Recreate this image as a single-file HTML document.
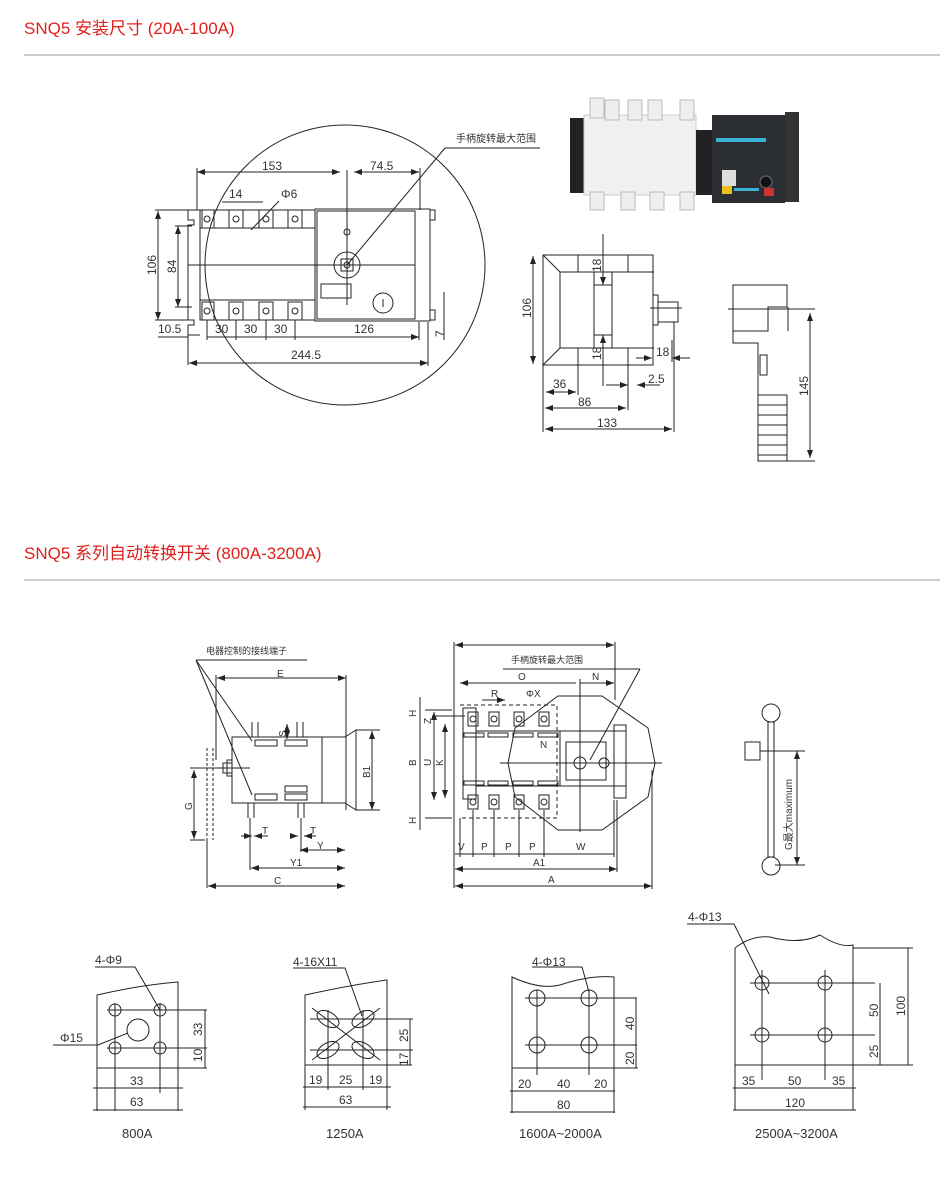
<!DOCTYPE html>
<html><head><meta charset="utf-8"><style>
html,body{margin:0;padding:0;background:#fff;width:940px;height:1204px;overflow:hidden}
svg{display:block}
.t{font-family:"Liberation Sans","Noto Sans CJK SC",sans-serif;fill:#333;font-size:12px}
.h{font-family:"Liberation Sans","Noto Sans CJK SC",sans-serif;fill:#e0201c;font-size:17px}
</style></head><body>
<svg width="940" height="1204" viewBox="0 0 940 1204" xmlns="http://www.w3.org/2000/svg">
<defs>
<marker id="a" markerWidth="8" markerHeight="6" refX="8" refY="3" orient="auto-start-reverse" markerUnits="userSpaceOnUse"><path d="M0,0 L8,3 L0,6z" fill="#222"/></marker>
</defs>
<text class="h" x="24" y="34">SNQ5 安装尺寸 (20A-100A)</text>
<line x1="24" y1="55" x2="940" y2="55" stroke="#999"/>
<text class="h" x="24" y="559">SNQ5 系列自动转换开关 (800A-3200A)</text>
<line x1="24" y1="580" x2="940" y2="580" stroke="#999"/>

<g stroke="#222" fill="none" stroke-width="1">
<circle cx="345" cy="265" r="140"/>
<path d="M188,210 h12 v20 M188,210 v10 h6 v5 h-6 v95 h6 v5 h-6 v10 h12"/>
<rect x="200" y="210" width="115" height="110"/>
<line x1="200" y1="228" x2="315" y2="228"/><line x1="200" y1="300" x2="315" y2="300"/>
<line x1="188" y1="265" x2="415" y2="265"/>
<rect x="202" y="210" width="12" height="18"/><rect x="229" y="210" width="14" height="18"/><rect x="259" y="210" width="14" height="18"/><rect x="288" y="210" width="14" height="18"/>
<rect x="202" y="302" width="12" height="18"/><rect x="229" y="302" width="14" height="18"/><rect x="259" y="302" width="14" height="18"/><rect x="288" y="302" width="14" height="18"/>
<circle cx="207" cy="219" r="3"/><circle cx="236" cy="219" r="3"/><circle cx="266" cy="219" r="3"/><circle cx="295" cy="219" r="3"/>
<circle cx="207" cy="311" r="3"/><circle cx="236" cy="311" r="3"/><circle cx="266" cy="311" r="3"/><circle cx="295" cy="311" r="3"/>
<rect x="315" y="209" width="115" height="112"/>
<rect x="317" y="211" width="98" height="108"/>
<path d="M430,210 h5 v10 h-5 M430,310 h5 v10 h-5"/>
<circle cx="347" cy="232" r="3"/>
<circle cx="347" cy="265" r="13"/><rect x="341" y="259" width="12" height="12"/><circle cx="347" cy="265" r="3"/>
<rect x="321" y="284" width="30" height="14"/>
<circle cx="383" cy="303" r="10"/><line x1="383" y1="299" x2="383" y2="307"/>
<line x1="347" y1="170" x2="347" y2="305"/>
<line x1="347" y1="265" x2="445" y2="148"/><line x1="445" y1="148" x2="540" y2="148"/>
<line x1="279" y1="201" x2="251" y2="230"/>
<line x1="197" y1="172" x2="340" y2="172" marker-start="url(#a)" marker-end="url(#a)"/>
<line x1="354" y1="172" x2="419" y2="172" marker-start="url(#a)" marker-end="url(#a)"/>
<line x1="197" y1="168" x2="197" y2="210"/><line x1="420" y1="168" x2="420" y2="210"/>
<line x1="222" y1="202" x2="263" y2="202"/>
<line x1="158" y1="211" x2="158" y2="320" marker-start="url(#a)" marker-end="url(#a)"/>
<line x1="178" y1="226" x2="178" y2="307" marker-start="url(#a)" marker-end="url(#a)"/>
<line x1="155" y1="210" x2="188" y2="210"/><line x1="155" y1="320" x2="188" y2="320"/>
<line x1="175" y1="226" x2="192" y2="226"/><line x1="175" y1="307" x2="192" y2="307"/>
<line x1="158" y1="337" x2="188" y2="337"/><line x1="188" y1="325" x2="188" y2="365"/>
<line x1="207" y1="337" x2="419" y2="337" marker-end="url(#a)"/>
<line x1="207" y1="320" x2="207" y2="340"/><line x1="236" y1="320" x2="236" y2="340"/><line x1="266" y1="320" x2="266" y2="340"/><line x1="295" y1="320" x2="295" y2="340"/>
<line x1="419" y1="322" x2="419" y2="340"/>
<line x1="189" y1="363" x2="428" y2="363" marker-start="url(#a)" marker-end="url(#a)"/>
<line x1="428" y1="322" x2="428" y2="366"/>
<line x1="444" y1="292" x2="444" y2="340"/>
<path d="M543,255 h110 v110 h-110 z M543,255 l17,17 v76 l-17,17 M560,272 h94 M560,348 h94"/>
<line x1="578" y1="255" x2="578" y2="272"/><line x1="628" y1="255" x2="628" y2="272"/>
<line x1="578" y1="348" x2="578" y2="365"/><line x1="628" y1="348" x2="628" y2="365"/>
<rect x="594" y="285" width="18" height="50"/><line x1="612" y1="272" x2="612" y2="348"/><line x1="594" y1="272" x2="594" y2="348"/>
<rect x="653" y="295" width="5" height="30"/><rect x="658" y="302" width="20" height="20"/><line x1="650" y1="308" x2="682" y2="308"/>
<line x1="533" y1="256" x2="533" y2="364" marker-start="url(#a)" marker-end="url(#a)"/>
<line x1="603" y1="234" x2="603" y2="285" marker-end="url(#a)"/><line x1="603" y1="335" x2="603" y2="386" marker-start="url(#a)"/>
<line x1="636" y1="358" x2="652" y2="358" marker-end="url(#a)"/><line x1="672" y1="358" x2="690" y2="358" marker-start="url(#a)"/><line x1="672" y1="340" x2="672" y2="362"/>
<line x1="543" y1="365" x2="543" y2="432"/><line x1="578" y1="365" x2="578" y2="395"/><line x1="628" y1="365" x2="628" y2="410"/><line x1="674" y1="322" x2="674" y2="432"/>
<line x1="546" y1="392" x2="576" y2="392" marker-start="url(#a)" marker-end="url(#a)"/>
<line x1="606" y1="385" x2="628" y2="385" marker-end="url(#a)"/><line x1="637" y1="385" x2="660" y2="385" marker-start="url(#a)"/>
<line x1="545" y1="408" x2="626" y2="408" marker-start="url(#a)" marker-end="url(#a)"/>
<line x1="545" y1="429" x2="672" y2="429" marker-start="url(#a)" marker-end="url(#a)"/>
<path d="M733,285 h54 v22 h-19 v24 h-35 z M788,307 v24 M733,331 v12 h25 v118 h29"/>
<path d="M758,395 h29 M758,405 h29 M758,415 h29 M758,425 h29 M758,435 h29 M758,445 h29 M758,455 h29 M787,395 v66"/>
<rect x="760" y="355" width="7" height="20"/>
<line x1="728" y1="309" x2="815" y2="309"/><line x1="787" y1="461" x2="815" y2="461"/>
<line x1="810" y1="313" x2="810" y2="458" marker-start="url(#a)" marker-end="url(#a)"/>

<line x1="196" y1="660" x2="307" y2="660"/>
<line x1="196" y1="660" x2="252" y2="741"/><line x1="196" y1="660" x2="252" y2="795"/>
<line x1="217" y1="678" x2="346" y2="678" marker-start="url(#a)" marker-end="url(#a)"/>
<line x1="216" y1="675" x2="216" y2="760"/><line x1="346" y1="675" x2="346" y2="810"/>
<rect x="232" y="737" width="90" height="66"/><line x1="322" y1="737" x2="322" y2="803"/>
<path d="M322,737 h23 l11,-7 v80 l-11,-7 h-23"/>
<rect x="255" y="740" width="22" height="6"/><rect x="285" y="740" width="22" height="6"/>
<rect x="255" y="794" width="22" height="6"/><rect x="285" y="786" width="22" height="6"/><rect x="285" y="794" width="22" height="6"/>
<line x1="252" y1="722" x2="252" y2="737"/><line x1="258" y1="722" x2="258" y2="737"/><line x1="297" y1="722" x2="297" y2="737"/><line x1="303" y1="722" x2="303" y2="737"/>
<line x1="248" y1="803" x2="248" y2="818"/><line x1="254" y1="803" x2="254" y2="818"/><line x1="298" y1="803" x2="298" y2="818"/><line x1="304" y1="803" x2="304" y2="818"/>
<rect x="223" y="763" width="9" height="10"/><rect x="227" y="760" width="5" height="16"/>
<line x1="190" y1="768" x2="250" y2="768"/>
<path d="M207,748 v92 M213,748 v92" stroke-dasharray="3,2"/>
<line x1="372" y1="731" x2="372" y2="810" marker-start="url(#a)" marker-end="url(#a)"/><line x1="356" y1="730" x2="380" y2="730"/><line x1="356" y1="810" x2="380" y2="810"/>
<line x1="194" y1="770" x2="194" y2="839" marker-start="url(#a)" marker-end="url(#a)"/><line x1="190" y1="840" x2="205" y2="840"/>
<line x1="287" y1="724" x2="287" y2="739" marker-start="url(#a)" marker-end="url(#a)"/>
<line x1="241" y1="836" x2="252" y2="836" marker-end="url(#a)"/><line x1="254" y1="836" x2="268" y2="836" marker-start="url(#a)"/>
<line x1="291" y1="836" x2="298" y2="836" marker-end="url(#a)"/><line x1="304" y1="836" x2="316" y2="836" marker-start="url(#a)"/>
<line x1="300" y1="850" x2="345" y2="850" marker-start="url(#a)" marker-end="url(#a)"/>
<line x1="250" y1="818" x2="250" y2="870"/><line x1="301" y1="818" x2="301" y2="852"/>
<line x1="251" y1="868" x2="345" y2="868" marker-start="url(#a)" marker-end="url(#a)"/>
<line x1="207" y1="840" x2="207" y2="888"/>
<line x1="208" y1="886" x2="345" y2="886" marker-start="url(#a)" marker-end="url(#a)"/>

<line x1="455" y1="645" x2="614" y2="645" marker-start="url(#a)" marker-end="url(#a)"/>
<line x1="454" y1="642" x2="454" y2="888"/><line x1="615" y1="642" x2="615" y2="700"/>
<line x1="503" y1="669" x2="640" y2="669"/><line x1="640" y1="669" x2="590" y2="760"/>
<line x1="460" y1="683" x2="576" y2="683" marker-start="url(#a)"/><line x1="580" y1="683" x2="614" y2="683" marker-end="url(#a)"/>
<line x1="580" y1="679" x2="580" y2="832"/>
<line x1="482" y1="700" x2="505" y2="700" marker-end="url(#a)"/>
<path d="M460,705 h97 v113 h-97" stroke-dasharray="4,3"/>
<rect x="463" y="708" width="13" height="91"/>
<line x1="476" y1="731" x2="560" y2="731"/><line x1="476" y1="786" x2="560" y2="786"/><line x1="476" y1="708" x2="476" y2="799"/>
<rect x="468" y="712" width="10" height="14"/><rect x="489" y="712" width="10" height="14"/><rect x="514" y="712" width="10" height="14"/><rect x="539" y="712" width="10" height="14"/>
<rect x="468" y="795" width="10" height="14"/><rect x="489" y="795" width="10" height="14"/><rect x="514" y="795" width="10" height="14"/><rect x="539" y="795" width="10" height="14"/>
<rect x="464" y="733" width="20" height="4"/><rect x="488" y="733" width="20" height="4"/><rect x="513" y="733" width="20" height="4"/><rect x="538" y="733" width="20" height="4"/>
<rect x="464" y="781" width="20" height="4"/><rect x="488" y="781" width="20" height="4"/><rect x="513" y="781" width="20" height="4"/><rect x="538" y="781" width="20" height="4"/>
<circle cx="473" cy="719" r="3"/><circle cx="494" cy="719" r="3"/><circle cx="519" cy="719" r="3"/><circle cx="544" cy="719" r="3"/>
<circle cx="473" cy="802" r="3"/><circle cx="494" cy="802" r="3"/><circle cx="519" cy="802" r="3"/><circle cx="544" cy="802" r="3"/>
<rect x="560" y="731" width="66" height="55"/><rect x="566" y="742" width="40" height="38"/><rect x="614" y="725" width="12" height="73"/>
<circle cx="580" cy="763" r="6"/><circle cx="604" cy="763" r="5"/>
<polygon points="558,696 602,696 648,728 655,763 648,797 602,830 558,830 515,797 508,763 515,728"/>
<line x1="500" y1="763" x2="662" y2="763"/>
<line x1="452" y1="710" x2="425" y2="710"/><line x1="452" y1="818" x2="425" y2="818"/>
<line x1="420" y1="697" x2="420" y2="830"/><line x1="434" y1="712" x2="434" y2="800" marker-start="url(#a)" marker-end="url(#a)"/><line x1="445" y1="724" x2="445" y2="798" marker-start="url(#a)" marker-end="url(#a)"/>
<line x1="432" y1="716" x2="465" y2="716"/>
<line x1="460" y1="818" x2="460" y2="857"/><line x1="473" y1="810" x2="473" y2="857"/><line x1="494" y1="810" x2="494" y2="857"/><line x1="519" y1="810" x2="519" y2="857"/><line x1="544" y1="810" x2="544" y2="857"/>
<line x1="455" y1="854" x2="614" y2="854"/><line x1="614" y1="800" x2="614" y2="857"/>
<line x1="455" y1="869" x2="617" y2="869" marker-start="url(#a)" marker-end="url(#a)"/><line x1="617" y1="800" x2="617" y2="872"/>
<line x1="455" y1="886" x2="652" y2="886" marker-start="url(#a)" marker-end="url(#a)"/><line x1="652" y1="770" x2="652" y2="889"/>
<circle cx="771" cy="713" r="9"/><circle cx="771" cy="866" r="9"/>
<rect x="768" y="722" width="6" height="135"/>
<rect x="745" y="742" width="15" height="18"/><line x1="760" y1="751" x2="780" y2="751"/>
<line x1="797" y1="751" x2="797" y2="865" marker-start="url(#a)" marker-end="url(#a)"/><line x1="775" y1="751" x2="805" y2="751"/><line x1="775" y1="865" x2="805" y2="865"/>

<path d="M97,995 Q140,985 178,982 V1068 H97 Z"/>
<circle cx="115" cy="1010" r="6"/><circle cx="160" cy="1010" r="6"/><circle cx="115" cy="1048" r="6"/><circle cx="160" cy="1048" r="6"/><circle cx="138" cy="1030" r="11"/>
<path d="M107,1010 h100 M107,1048 h100 M115,1003 v108 M160,1003 v90 M97,1068 v43 M178,1068 v43 M178,1068 h29 M205,1010 v58"/>
<line x1="93" y1="1088" x2="183" y2="1088"/><line x1="93" y1="1110" x2="183" y2="1110"/>
<path d="M95,967 h40 l25,43 M53,1045 h45 l30,-12"/>
<path d="M305,995 Q350,985 387,980 V1065 H305 Z"/>
<ellipse cx="328" cy="1019" rx="12" ry="7" transform="rotate(30 328 1019)"/><ellipse cx="363" cy="1019" rx="12" ry="7" transform="rotate(-30 363 1019)"/>
<ellipse cx="328" cy="1050" rx="12" ry="7" transform="rotate(-30 328 1050)"/><ellipse cx="363" cy="1050" rx="12" ry="7" transform="rotate(30 363 1050)"/>
<path d="M312,1008 L380,1060 M380,1008 L312,1060 M310,1019 h103 M310,1050 h103 M328,1010 v80 M363,1010 v80 M305,1065 v45 M387,1065 v45 M387,1065 h25 M410,1019 v46"/>
<line x1="303" y1="1087" x2="391" y2="1087"/><line x1="303" y1="1107" x2="391" y2="1107"/>
<path d="M293,968 h52 l17,48"/>
<path d="M512,977 Q540,990 560,985 Q590,975 614,977 V1068 H512 Z"/>
<circle cx="537" cy="998" r="8"/><circle cx="589" cy="998" r="8"/><circle cx="537" cy="1045" r="8"/><circle cx="589" cy="1045" r="8"/>
<path d="M525,998 h112 M525,1045 h112 M537,990 v85 M589,990 v85 M512,1068 v45 M614,1068 v45 M614,1068 h24 M636,998 v70"/>
<line x1="510" y1="1091" x2="615" y2="1091"/><line x1="510" y1="1112" x2="615" y2="1112"/>
<path d="M532,967 h50 l7,25"/>
<path d="M735,948 Q752,935 770,937 Q800,945 820,935 Q840,948 853,945 V1065 H735 Z"/>
<circle cx="762" cy="983" r="7"/><circle cx="825" cy="983" r="7"/><circle cx="762" cy="1035" r="7"/><circle cx="825" cy="1035" r="7"/>
<path d="M750,983 h125 M750,1035 h125 M762,970 v110 M825,970 v110 M735,1065 v45 M853,1065 v45 M853,948 h60 M853,1065 h60 M880,983 v82 M908,948 v117"/>
<line x1="733" y1="1088" x2="856" y2="1088"/><line x1="733" y1="1110" x2="856" y2="1110"/>
<path d="M687,924 h47 l35,70"/>
</g>

<g>
<rect x="570" y="118" width="14" height="75" fill="#222"/>
<rect x="584" y="115" width="112" height="80" fill="#f0f0ee" stroke="#ccc"/>
<rect x="590" y="98" width="14" height="20" fill="#eee" stroke="#bbb"/><rect x="605" y="100" width="14" height="20" fill="#eee" stroke="#bbb"/><rect x="628" y="100" width="14" height="20" fill="#eee" stroke="#bbb"/><rect x="648" y="100" width="14" height="20" fill="#eee" stroke="#bbb"/><rect x="680" y="100" width="14" height="20" fill="#eee" stroke="#bbb"/>
<rect x="590" y="192" width="14" height="18" fill="#eee" stroke="#bbb"/><rect x="621" y="192" width="14" height="18" fill="#eee" stroke="#bbb"/><rect x="650" y="192" width="14" height="18" fill="#eee" stroke="#bbb"/><rect x="680" y="192" width="14" height="18" fill="#eee" stroke="#bbb"/>
<rect x="696" y="130" width="16" height="65" fill="#222"/>
<rect x="712" y="115" width="73" height="88" fill="#2b2f33"/>
<rect x="785" y="112" width="14" height="90" fill="#333"/>
<rect x="716" y="138" width="50" height="4" fill="#3ab3d6"/>
<rect x="722" y="170" width="14" height="16" fill="#ddd"/><circle cx="766" cy="182" r="6" fill="#111" stroke="#777"/>
<rect x="722" y="186" width="10" height="8" fill="#e8c020"/><rect x="734" y="188" width="25" height="3" fill="#3ab3d6"/>
<rect x="764" y="188" width="10" height="8" fill="#c33"/>
</g>

<g class="t">
<text x="456" y="142" font-size="10">手柄旋转最大范围</text>
<text x="262" y="170">153</text><text x="370" y="170">74.5</text>
<text x="229" y="198">14</text><text x="281" y="198">Φ6</text>
<text transform="translate(156,275) rotate(-90)">106</text><text transform="translate(176,273) rotate(-90)">84</text>
<text x="158" y="333">10.5</text><text x="215" y="333">30</text><text x="244" y="333">30</text><text x="274" y="333">30</text><text x="354" y="333">126</text>
<text x="291" y="359">244.5</text><text transform="translate(444,337) rotate(-90)">7</text>
<text transform="translate(531,318) rotate(-90)">106</text>
<text transform="translate(601,272) rotate(-90)">18</text><text transform="translate(601,360) rotate(-90)">18</text>
<text x="656" y="356">18</text><text x="648" y="383">2.5</text><text x="553" y="388">36</text><text x="578" y="406">86</text><text x="597" y="427">133</text>
<text transform="translate(808,396) rotate(-90)">145</text>
<text x="206" y="654" font-size="9">电器控制的接线端子</text>
<text x="277" y="677" font-size="10">E</text><text transform="translate(370,778) rotate(-90)" font-size="10">B1</text>
<text transform="translate(286,737) rotate(-90)" font-size="10">S</text>
<text transform="translate(192,810) rotate(-90)" font-size="10">G</text>
<text x="262" y="834" font-size="10">T</text><text x="310" y="834" font-size="10">T</text><text x="317" y="849" font-size="10">Y</text>
<text x="290" y="866" font-size="10">Y1</text><text x="274" y="884" font-size="10">C</text>
<text x="511" y="663" font-size="9">手柄旋转最大范围</text>
<text x="518" y="680" font-size="10">O</text><text x="592" y="680" font-size="10">N</text>
<text x="491" y="697" font-size="10">R</text><text x="526" y="697" font-size="10">ΦX</text><text x="540" y="748" font-size="10">N</text>
<text transform="translate(416,717) rotate(-90)" font-size="10">H</text><text transform="translate(416,824) rotate(-90)" font-size="10">H</text>
<text transform="translate(416,766) rotate(-90)" font-size="10">B</text><text transform="translate(431,766) rotate(-90)" font-size="10">U</text><text transform="translate(443,766) rotate(-90)" font-size="10">K</text>
<text transform="translate(431,724) rotate(-90)" font-size="10">Z</text>
<text x="458" y="850" font-size="10">V</text><text x="481" y="850" font-size="10">P</text><text x="505" y="850" font-size="10">P</text><text x="529" y="850" font-size="10">P</text><text x="576" y="850" font-size="10">W</text>
<text x="533" y="866" font-size="10">A1</text><text x="548" y="883" font-size="10">A</text>
<text transform="translate(792,850) rotate(-90)" font-size="10">G最大maximum</text>
<text x="95" y="964">4-Φ9</text><text x="60" y="1042">Φ15</text>
<text transform="translate(202,1036) rotate(-90)">33</text><text transform="translate(202,1062) rotate(-90)">10</text>
<text x="130" y="1085">33</text><text x="130" y="1106">63</text><text x="122" y="1138" font-size="13">800A</text>
<text x="293" y="966">4-16X11</text>
<text transform="translate(408,1042) rotate(-90)">25</text><text transform="translate(408,1066) rotate(-90)">17</text>
<text x="309" y="1084">19</text><text x="339" y="1084">25</text><text x="369" y="1084">19</text><text x="339" y="1104">63</text><text x="326" y="1138" font-size="13">1250A</text>
<text x="532" y="966">4-Φ13</text>
<text transform="translate(634,1030) rotate(-90)">40</text><text transform="translate(634,1065) rotate(-90)">20</text>
<text x="518" y="1088">20</text><text x="557" y="1088">40</text><text x="594" y="1088">20</text><text x="557" y="1109">80</text>
<text x="519" y="1138" font-size="13">1600A~2000A</text>
<text x="688" y="921">4-Φ13</text>
<text transform="translate(878,1017) rotate(-90)">50</text><text transform="translate(878,1058) rotate(-90)">25</text><text transform="translate(905,1016) rotate(-90)">100</text>
<text x="742" y="1085">35</text><text x="788" y="1085">50</text><text x="832" y="1085">35</text><text x="785" y="1107">120</text>
<text x="755" y="1138" font-size="13">2500A~3200A</text>
</g>
</svg>
</body></html>
